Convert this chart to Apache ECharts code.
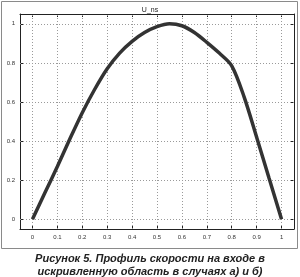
<!DOCTYPE html>
<html><head><meta charset="utf-8">
<script src="https://cdn.jsdelivr.net/npm/echarts@6/dist/echarts.min.js"></script>
<style>html,body{margin:0;padding:0;background:#fff}#c{width:300px;height:277px}</style>
</head><body><div id="c"></div>
<script>
const xValues = [0,0.05,0.1,0.15,0.2,0.25,0.3,0.35,0.4,0.45,0.5,0.55,0.6,0.65,0.7,0.75,0.8,0.85,0.9,0.95,1.0];
const uValues = [0,0.135,0.27,0.41,0.545,0.665,0.77,0.85,0.91,0.955,0.985,1.0,0.99,0.955,0.905,0.85,0.785,0.625,0.42,0.21,0];
const xTicks = [0,0.1,0.2,0.3,0.4,0.5,0.6,0.7,0.8,0.9,1];
const yTicks = [0,0.2,0.4,0.6,0.8,1];
const chartTitle = 'U_ns';
const captionLines = ['Рисунок 5. Профиль скорости на входе в','искривленную область в случаях а) и б)'];

const chart = echarts.init(document.getElementById('c'), null, {renderer:'canvas'});
const dotted = {show:true, lineStyle:{color:'#9a9a9a', type:[1,2], width:1}};
const labelStyle = {color:'#333', fontSize:6, fontFamily:'Liberation Sans'};
chart.setOption({
  animation:false,
  title:{text:chartTitle, left:'center', top:2, textStyle:{fontSize:7, fontWeight:'normal', color:'#222', fontFamily:'Liberation Sans'}},
  graphic:[
    {type:'rect', shape:{x:1.5,y:1.5,width:296,height:247}, style:{fill:'none', stroke:'#8a8a8a', lineWidth:1}, z:-1},
    {type:'text', left:'center', top:252, style:{text:captionLines.join('\n'), font:'italic bold 11px "Liberation Sans"', fill:'#222', textAlign:'center', lineHeight:13}}
  ],
  grid:{left:20, right:6, top:14, bottom:48, show:false},
  xAxis:[{type:'value', min:-0.05, max:1.05, position:'bottom',
    axisLine:{show:true, onZero:false, lineStyle:{color:'#222', width:1}},
    axisTick:{show:true, inside:true, length:3, customValues:xTicks, lineStyle:{color:'#222'}},
    axisLabel:{show:true, customValues:xTicks, margin:5, ...labelStyle},
    splitLine:{show:false}},
    {type:'value', min:-0.05, max:1.05, position:'top',
    axisLine:{show:true, onZero:false, lineStyle:{color:'#222', width:1}},
    axisTick:{show:true, inside:true, length:3, customValues:xTicks, lineStyle:{color:'#222'}},
    axisLabel:{show:false}, splitLine:{show:false}}],
  yAxis:[{type:'value', min:-0.05, max:1.05, position:'left',
    axisLine:{show:true, onZero:false, lineStyle:{color:'#222', width:1}},
    axisTick:{show:true, inside:true, length:3, customValues:yTicks, lineStyle:{color:'#222'}},
    axisLabel:{show:true, customValues:yTicks, margin:5, ...labelStyle},
    splitLine:{show:false}},
    {type:'value', min:-0.05, max:1.05, position:'right',
    axisLine:{show:true, onZero:false, lineStyle:{color:'#222', width:1}},
    axisTick:{show:true, inside:true, length:3, customValues:yTicks, lineStyle:{color:'#222'}},
    axisLabel:{show:false}, splitLine:{show:false}}],
  series:[{
    type:'line', xAxisIndex:0, yAxisIndex:0, smooth:0.3, showSymbol:false,
    data:xValues.map((x,i)=>[x,uValues[i]]),
    lineStyle:{color:'#333', width:3.5}, z:5,
    markLine:{silent:true, symbol:'none', label:{show:false}, animation:false,
      lineStyle:{color:'#9a9a9a', type:[1,2], width:1},
      data:[...xTicks.map(v=>({xAxis:v})), ...yTicks.map(v=>({yAxis:v}))]}
  }]
});
</script></body></html>
